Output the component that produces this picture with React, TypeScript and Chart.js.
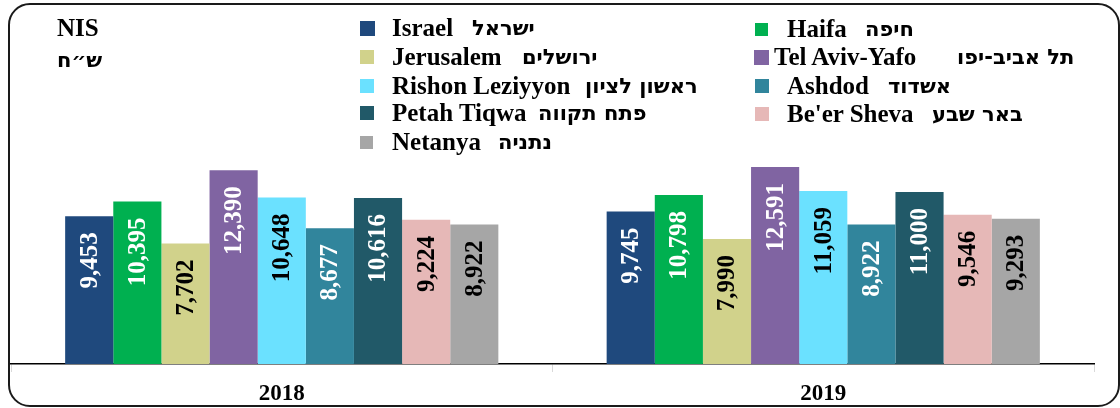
import React, { useEffect, useRef } from "react";
import { Chart, registerables } from "chart.js";

Chart.register(...registerables);

// ---------- data ----------
const years = ["2018", "2019"];
const citiesEn = [
  "Israel",
  "Haifa",
  "Jerusalem",
  "Tel Aviv-Yafo",
  "Rishon Leziyyon",
  "Ashdod",
  "Petah Tiqwa",
  "Be'er Sheva",
  "Netanya",
];
const citiesHe = [
  "ישראל",
  "חיפה",
  "ירושלים",
  "תל אביב-יפו",
  "ראשון לציון",
  "אשדוד",
  "פתח תקווה",
  "באר שבע",
  "נתניה",
];
const values2018 = [9453, 10395, 7702, 12390, 10648, 8677, 10616, 9224, 8922];
const values2019 = [9745, 10798, 7990, 12591, 11059, 8922, 11000, 9546, 9293];
const unitEn = "NIS";
const unitHe = "ש״ח";

// ---------- styles ----------
const barColors = [
  "#1F497D",
  "#00B050",
  "#D1D28B",
  "#8064A2",
  "#6BE1FF",
  "#31859C",
  "#215968",
  "#E6B8B7",
  "#A6A6A6",
];
const labelColors = [
  "#ffffff",
  "#ffffff",
  "#000000",
  "#ffffff",
  "#000000",
  "#ffffff",
  "#ffffff",
  "#000000",
  "#000000",
];
// legend layout: box x, box size, english text x, hebrew text x, row center y
const legendLayout = [
  { bx: 360, bs: 15, tx: 392, hx: 472, y: 28 },
  { bx: 755, bs: 13, tx: 787, hx: 865, y: 29 },
  { bx: 360, bs: 14, tx: 392, hx: 522, y: 57 },
  { bx: 754, bs: 15, tx: 774, hx: 957, y: 57 },
  { bx: 360, bs: 14, tx: 392, hx: 585, y: 86 },
  { bx: 755, bs: 14, tx: 787, hx: 888, y: 86 },
  { bx: 360, bs: 14, tx: 392, hx: 538, y: 113 },
  { bx: 755, bs: 14, tx: 787, hx: 932, y: 114 },
  { bx: 360, bs: 13, tx: 392, hx: 498, y: 142 },
];

const FONT = '"Liberation Serif", "Times New Roman", "DejaVu Serif", serif';
const HEB_FONT = '"DejaVu Sans", "Liberation Sans", sans-serif';

const valueLabels = {
  id: "valueLabels",
  afterDatasetsDraw(chart: any) {
    const ctx = chart.ctx;
    chart.data.datasets.forEach((ds: any, di: number) => {
      const meta = chart.getDatasetMeta(di);
      meta.data.forEach((el: any, i: number) => {
        const v = ds.data[i];
        ctx.save();
        ctx.translate(el.x, el.y + 16);
        ctx.rotate(-Math.PI / 2);
        ctx.font = `bold 25px ${FONT}`;
        ctx.fillStyle = labelColors[di];
        ctx.textAlign = "right";
        ctx.textBaseline = "middle";
        ctx.fillText(v.toLocaleString("en-US"), 0, 1);
        ctx.restore();
      });
    });
  },
};

export default function App() {
  const canvasRef = useRef<HTMLCanvasElement | null>(null);

  useEffect(() => {
    if (!canvasRef.current) return;
    const chart = new Chart(canvasRef.current, {
      type: "bar",
      data: {
        labels: years,
        datasets: citiesEn.map((name, i) => ({
          label: name,
          data: [values2018[i], values2019[i]],
          backgroundColor: barColors[i],
          borderWidth: 0,
          categoryPercentage: 0.8,
          barPercentage: 1.0,
        })),
      },
      options: {
        animation: false,
        responsive: false,
        maintainAspectRatio: false,
        layout: { padding: { top: 145, left: 11, right: 26, bottom: -7.6 } },
        plugins: {
          legend: { display: false },
          tooltip: { enabled: false },
          title: { display: false },
        },
        scales: {
          x: {
            grid: {
              display: true,
              drawOnChartArea: false,
              drawTicks: true,
              tickLength: 8,
              color: "#d9d9d9",
              lineWidth: 1,
            },
            border: { display: true, color: "#000000", width: 1.5 },
            ticks: {
              color: "#000000",
              padding: 8,
              font: { family: FONT, size: 23, weight: "bold" },
            },
          },
          y: {
            display: false,
            min: 0,
            max: 14000,
          },
        },
      },
      plugins: [valueLabels],
    });
    return () => chart.destroy();
  }, []);

  return (
    <div
      style={{
        position: "fixed",
        left: 0,
        top: 0,
        width: 1120,
        height: 408,
        background: "#ffffff",
        overflow: "hidden",
        fontFamily: FONT,
      }}
    >
      <canvas
        ref={canvasRef}
        width={1120}
        height={408}
        style={{ position: "absolute", left: 0, top: 0, width: 1120, height: 408 }}
      />
      <div
        style={{
          position: "absolute",
          left: 8,
          top: 3,
          width: 1112,
          height: 404,
          boxSizing: "border-box",
          border: "2px solid #1a1a1a",
          borderRadius: 22,
          pointerEvents: "none",
        }}
      />
      <div
        style={{
          position: "absolute",
          left: 57,
          top: 14,
          fontWeight: "bold",
          fontSize: 25,
          lineHeight: "28px",
          color: "#000",
        }}
      >
        <div>{unitEn}</div>
        <div
          dir="rtl"
          style={{ marginTop: 4, textAlign: "left", fontFamily: HEB_FONT, fontSize: 21 }}
        >
          {unitHe}
        </div>
      </div>
      {citiesEn.map((name, i) => {
        const L = legendLayout[i];
        return (
          <React.Fragment key={name}>
            <div
              style={{
                position: "absolute",
                left: L.bx,
                top: L.y - L.bs / 2,
                width: L.bs,
                height: L.bs,
                background: barColors[i],
              }}
            />
            <div
              style={{
                position: "absolute",
                left: L.tx,
                top: L.y - 14,
                height: 28,
                lineHeight: "28px",
                fontSize: 25,
                fontWeight: "bold",
                whiteSpace: "nowrap",
                color: "#000",
              }}
            >
              {name}
            </div>
            <div
              dir="rtl"
              style={{
                position: "absolute",
                left: L.hx,
                top: L.y - 14,
                height: 28,
                lineHeight: "29px",
                fontSize: 21,
                fontFamily: HEB_FONT,
                fontWeight: "bold",
                whiteSpace: "nowrap",
                color: "#000",
              }}
            >
              {citiesHe[i]}
            </div>
          </React.Fragment>
        );
      })}
    </div>
  );
}
